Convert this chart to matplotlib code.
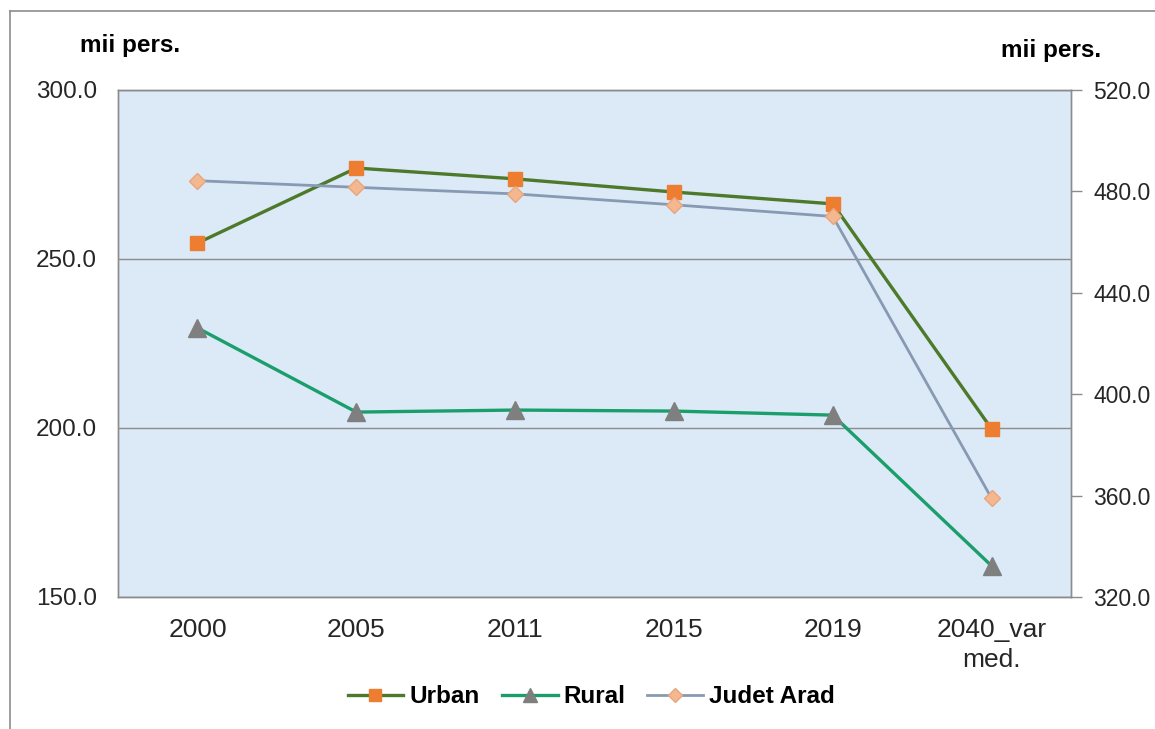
import matplotlib
matplotlib.use("Agg")
import matplotlib.pyplot as plt
from matplotlib.lines import Line2D

plt.rcParams['font.family'] = ['Liberation Sans', 'DejaVu Sans']

categories = ['2000', '2005', '2011', '2015', '2019', '2040_var\nmed.']
urban = [254.7, 276.9, 273.7, 269.8, 266.3, 199.7]
rural = [229.6, 204.7, 205.3, 205.0, 203.8, 159.2]
judet = [484.2, 481.6, 479.0, 474.7, 470.1, 358.9]

left_ticks = [150.0, 200.0, 250.0, 300.0]
right_ticks = [320.0, 360.0, 400.0, 440.0, 480.0, 520.0]

c_urban = '#4d7a2a'
c_rural = '#1a9f6c'
c_judet = '#8799b3'
bg = '#dce9f6'
frame = '#8c8c8c'

fig = plt.figure(figsize=(11.55, 7.29), dpi=100)
ax = fig.add_axes([0.1022, 0.1811, 0.8251, 0.6955])
ax2 = ax.twinx()

x = [i + 0.5 for i in range(len(categories))]

ax.set_facecolor(bg)
ax.set_xlim(0, len(categories))
ax.set_ylim(150, 300)
ax.set_yticks(left_ticks)
ax.set_yticklabels(['%.1f' % v for v in left_ticks])
ax.yaxis.grid(True, color=frame, linewidth=1.0)
ax.set_axisbelow(True)
ax.set_xticks(x)
ax.set_xticklabels(categories, fontsize=19, color='#262626', linespacing=1.3)
ax.tick_params(axis='x', length=0, pad=15)
ax.tick_params(axis='y', length=0, labelsize=17.5, labelcolor='#262626', pad=15)

ax2.set_ylim(320, 520)
ax2.set_yticks(right_ticks)
ax2.set_yticklabels(['%.1f' % v for v in right_ticks])
ax2.tick_params(axis='y', length=8, width=1, color=frame, labelsize=16.5,
                labelcolor='#262626', pad=8, direction='out')

for a in (ax, ax2):
    for s in a.spines.values():
        s.set_color(frame)
        s.set_linewidth(1.0)

ax.plot(x, urban, color=c_urban, linewidth=2.4, marker='s', markersize=10,
        markerfacecolor='#ed7d31', markeredgecolor='#ed7d31', zorder=3)
ax.plot(x, rural, color=c_rural, linewidth=2.4, marker='^', markersize=13,
        markerfacecolor='#7f7f7f', markeredgecolor='#7f7f7f', zorder=3)
ax2.plot(x, judet, color=c_judet, linewidth=2.0, marker='D', markersize=8,
         markerfacecolor='#f4b890', markeredgecolor='#e8a57c', zorder=3)

fig.text(0.113, 0.938, 'mii pers.', fontsize=17.5, fontweight='bold', ha='center', va='center')
fig.text(0.910, 0.931, 'mii pers.', fontsize=17.5, fontweight='bold', ha='center', va='center')

handles = [
    Line2D([], [], color=c_urban, linewidth=2.4, marker='s', markersize=9,
           markerfacecolor='#ed7d31', markeredgecolor='#ed7d31'),
    Line2D([], [], color=c_rural, linewidth=2.4, marker='^', markersize=10,
           markerfacecolor='#7f7f7f', markeredgecolor='#7f7f7f'),
    Line2D([], [], color=c_judet, linewidth=2.0, marker='D', markersize=7,
           markerfacecolor='#f4b890', markeredgecolor='#e8a57c'),
]
fig.legend(handles, ['Urban', 'Rural', 'Judet Arad'], loc='center',
           bbox_to_anchor=(0.512, 0.044), ncol=3, frameon=False,
           prop={'size': 17.5, 'weight': 'bold'}, handlelength=2.3,
           columnspacing=0.9, handletextpad=0.25)

# outer chart frame (cut off at right and bottom as in the source)
fig.add_artist(Line2D([0.0087, 0.0087], [0.0, 0.985], transform=fig.transFigure,
                      color='#8c8c8c', linewidth=1.2))
fig.add_artist(Line2D([0.0087, 1.0], [0.985, 0.985], transform=fig.transFigure,
                      color='#8c8c8c', linewidth=1.2))

fig.savefig('out.png', dpi=100, facecolor='white')
